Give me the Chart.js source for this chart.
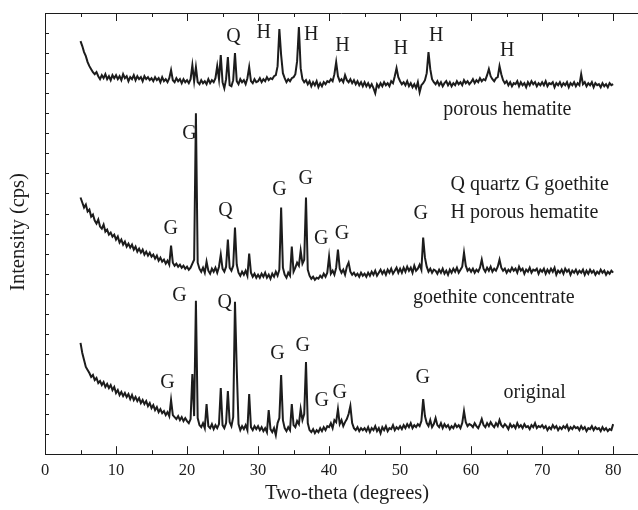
<!DOCTYPE html>
<html>
<head>
<meta charset="utf-8">
<script src="https://cdn.jsdelivr.net/npm/chart.js@4.4.0/dist/chart.umd.min.js"></script>
<style>
  html, body { margin: 0; padding: 0; background: #fff; }
  #wrap { width: 638px; height: 510px; }
</style>
</head>
<body>
<div id="wrap"><canvas id="xrd" width="638" height="510"></canvas></div>
<script>
// scan grid: 5..80 deg two-theta, 0.25 deg step (301 points per pattern)
const THETA_START = 5;
const THETA_STEP = 0.25;
const xTickValues = [0, 10, 20, 30, 40, 50, 60, 70, 80];

// intensities in stacked-plot units (traces are offset vertically)
const porousHematite = [
  20.60, 20.35, 20.05, 19.85, 19.55, 19.35, 19.20, 19.05, 18.95, 19.05, 18.85, 18.70, 18.90, 18.75, 18.95, 18.70, 18.85, 18.65, 18.90, 18.75, // 5
  18.90, 18.70, 18.85, 18.65, 18.95, 18.75, 18.85, 18.60, 18.80, 18.70, 18.90, 18.65, 18.85, 18.70, 18.80, 18.60, 18.85, 18.70, 18.80, 18.65, // 10
  18.75, 18.60, 18.80, 18.65, 18.75, 18.55, 18.80, 18.60, 18.70, 18.55, 18.75, 19.15, 18.65, 18.55, 18.75, 18.60, 18.70, 18.50, 18.70, 18.55, // 15
  18.65, 18.50, 18.70, 19.40, 18.60, 19.30, 18.55, 18.45, 18.65, 18.50, 18.60, 18.45, 18.70, 18.50, 18.65, 18.55, 18.75, 19.35, 18.70, 19.90, // 20
  18.55, 18.25, 18.70, 19.80, 18.40, 18.35, 18.65, 20.00, 18.60, 18.45, 18.70, 18.55, 18.65, 18.45, 18.75, 19.30, 18.60, 18.50, 18.70, 18.55, // 25
  18.60, 18.75, 18.55, 18.70, 18.60, 18.80, 18.65, 18.75, 18.70, 18.85, 18.90, 19.35, 21.20, 19.90, 19.00, 18.75, 18.55, 18.70, 18.60, 18.75, // 30
  18.80, 18.95, 19.60, 21.30, 19.25, 18.70, 18.55, 18.65, 18.45, 18.60, 18.35, 18.55, 18.40, 18.60, 18.30, 18.50, 18.35, 18.55, 18.45, 18.60, // 35
  18.55, 18.70, 18.60, 18.95, 19.55, 18.85, 18.60, 18.70, 18.55, 18.90, 18.65, 18.55, 18.70, 18.50, 18.65, 18.45, 18.60, 18.40, 18.55, 18.35, // 40
  18.55, 18.35, 18.50, 18.30, 18.45, 18.25, 18.00, 18.45, 18.30, 18.50, 18.35, 18.55, 18.40, 18.50, 18.35, 18.60, 18.50, 18.85, 19.25, 18.80, // 45
  18.60, 18.45, 18.55, 18.40, 18.60, 18.35, 18.50, 18.30, 18.45, 18.25, 18.55, 18.05, 18.40, 18.50, 18.65, 19.00, 20.05, 19.20, 18.70, 18.55, // 50
  18.45, 18.60, 18.40, 18.55, 18.35, 18.50, 18.60, 18.40, 18.55, 18.35, 18.50, 18.40, 18.60, 18.45, 18.55, 18.40, 18.65, 18.50, 18.60, 18.45, // 55
  18.55, 18.70, 18.50, 18.65, 18.55, 18.75, 18.60, 18.70, 18.65, 18.90, 19.20, 18.85, 18.70, 18.60, 18.75, 18.80, 19.35, 18.95, 18.65, 18.50, // 60
  18.60, 18.40, 18.55, 18.35, 18.50, 18.45, 18.60, 18.35, 18.55, 18.40, 18.50, 18.30, 18.55, 18.40, 18.60, 18.45, 18.55, 18.35, 18.50, 18.40, // 65
  18.55, 18.40, 18.60, 18.35, 18.50, 18.45, 18.55, 18.30, 18.50, 18.40, 18.55, 18.35, 18.50, 18.40, 18.55, 18.30, 18.50, 18.40, 18.55, 18.35, // 70
  18.50, 18.40, 18.95, 18.45, 18.55, 18.35, 18.50, 18.40, 18.55, 18.30, 18.50, 18.40, 18.45, 18.30, 18.50, 18.35, 18.45, 18.30, 18.50, 18.40, // 75
  18.45,
];

const goethiteConcentrate = [
  12.80, 12.55, 12.30, 12.45, 12.10, 12.20, 11.85, 11.95, 11.65, 11.50, 11.70, 11.35, 11.25, 11.45, 11.10, 11.20, 10.95, 11.05, 10.85, 10.95, // 5
  10.70, 10.85, 10.55, 10.70, 10.45, 10.60, 10.35, 10.50, 10.30, 10.45, 10.20, 10.35, 10.10, 10.25, 10.05, 10.20, 9.95, 10.10, 9.90, 10.05, // 10
  9.85, 9.95, 9.75, 9.90, 9.65, 9.80, 9.60, 9.70, 9.50, 9.65, 9.45, 10.40, 9.55, 9.40, 9.50, 9.35, 9.45, 9.30, 9.40, 9.25, // 15
  9.35, 9.20, 9.30, 9.50, 9.70, 17.00, 9.55, 9.25, 9.10, 9.30, 9.05, 9.60, 9.15, 9.00, 9.25, 9.10, 9.30, 9.05, 9.35, 9.95, // 20
  9.25, 9.10, 9.35, 10.70, 9.30, 9.15, 9.40, 11.30, 9.45, 9.05, 8.90, 9.10, 8.95, 9.15, 8.90, 10.00, 9.05, 8.85, 9.00, 8.80, // 25
  8.95, 8.80, 9.00, 8.85, 9.05, 8.80, 8.95, 8.75, 9.00, 8.85, 9.10, 8.90, 9.20, 12.30, 9.30, 8.95, 8.80, 9.05, 8.90, 10.35, // 30
  9.10, 9.30, 9.55, 9.40, 10.15, 9.50, 9.70, 12.80, 9.20, 8.90, 8.75, 8.85, 8.70, 8.80, 8.75, 8.90, 8.80, 9.00, 8.85, 9.05, // 35
  9.85, 9.00, 9.15, 8.95, 9.30, 10.20, 9.25, 9.05, 9.20, 8.95, 9.35, 9.55, 9.10, 8.95, 9.05, 8.90, 9.00, 8.85, 9.05, 8.90, // 40
  9.00, 8.85, 9.05, 8.90, 9.10, 8.95, 9.15, 8.90, 9.05, 9.20, 9.00, 9.15, 8.95, 9.20, 9.05, 9.25, 9.00, 9.15, 9.30, 9.05, // 45
  9.25, 9.05, 9.30, 9.10, 9.35, 9.15, 9.30, 9.05, 9.40, 9.15, 9.25, 9.45, 9.20, 10.80, 9.80, 9.35, 9.10, 9.25, 9.05, 9.20, // 50
  9.15, 9.00, 9.20, 9.05, 9.25, 9.00, 9.15, 8.95, 9.20, 9.05, 9.25, 9.10, 9.30, 9.05, 9.20, 9.35, 10.05, 9.40, 9.15, 9.25, // 55
  9.10, 9.25, 9.05, 9.20, 9.10, 9.30, 9.70, 9.25, 9.10, 9.30, 9.15, 9.35, 9.10, 9.25, 9.15, 9.35, 9.70, 9.30, 9.15, 9.25, // 60
  9.05, 9.20, 9.10, 9.30, 9.15, 9.25, 9.05, 9.35, 9.15, 9.25, 9.00, 9.20, 9.10, 9.30, 9.05, 9.20, 9.15, 9.25, 9.00, 9.20, // 65
  9.10, 9.25, 9.00, 9.20, 9.05, 9.25, 9.10, 9.30, 8.95, 9.15, 9.05, 9.20, 9.00, 9.25, 9.10, 9.20, 8.95, 9.15, 9.05, 9.20, // 70
  9.00, 9.15, 9.05, 9.20, 8.95, 9.15, 9.00, 9.20, 9.05, 9.15, 8.95, 9.10, 9.00, 9.20, 9.05, 9.15, 8.95, 9.10, 9.00, 9.15, // 75
  9.05,
];

const original = [
  5.55, 5.05, 4.70, 4.35, 4.20, 4.05, 3.85, 3.95, 3.70, 3.80, 3.55, 3.65, 3.45, 3.60, 3.35, 3.50, 3.30, 3.45, 3.20, 3.35, // 5
  3.05, 3.20, 2.95, 3.10, 2.90, 3.05, 2.85, 3.00, 2.75, 2.95, 2.70, 2.85, 2.65, 2.80, 2.55, 2.70, 2.50, 2.65, 2.40, 2.55, // 10
  2.30, 2.45, 2.20, 2.35, 2.10, 2.25, 2.05, 2.15, 1.95, 2.10, 1.90, 2.70, 1.95, 1.85, 1.75, 1.90, 1.70, 1.85, 1.65, 1.80, // 15
  1.65, 1.55, 1.75, 4.00, 1.90, 7.65, 1.80, 1.45, 1.35, 1.55, 1.30, 2.50, 1.40, 1.30, 1.50, 1.25, 1.45, 1.30, 1.50, 3.30, // 20
  1.45, 1.30, 1.55, 3.15, 1.60, 1.40, 1.85, 7.60, 4.25, 1.50, 1.20, 1.40, 1.25, 1.45, 1.20, 3.00, 1.35, 1.20, 1.40, 1.25, // 25
  1.40, 1.20, 1.35, 1.15, 1.30, 1.10, 2.20, 1.25, 1.10, 1.30, 0.95, 1.55, 1.80, 3.95, 1.70, 1.30, 1.15, 1.35, 1.20, 2.50, // 30
  1.45, 1.35, 1.65, 1.50, 2.25, 1.70, 2.00, 4.60, 1.55, 1.20, 1.10, 1.25, 1.05, 1.20, 1.10, 1.30, 1.15, 1.35, 1.20, 1.40, // 35
  1.35, 1.55, 1.30, 1.70, 1.60, 2.25, 1.50, 1.70, 1.40, 1.60, 1.75, 2.00, 2.40, 1.55, 1.30, 1.20, 1.35, 1.15, 1.30, 1.20, // 40
  1.30, 1.15, 1.35, 1.10, 1.30, 1.20, 1.40, 1.15, 1.30, 1.05, 1.35, 1.20, 1.40, 1.15, 1.30, 1.25, 1.45, 1.20, 1.35, 1.25, // 45
  1.40, 1.25, 1.45, 1.30, 1.50, 1.35, 1.55, 1.30, 1.45, 1.35, 1.50, 1.40, 1.65, 2.75, 1.90, 1.55, 1.40, 1.70, 1.35, 1.50, // 50
  1.80, 1.45, 1.35, 1.55, 1.30, 1.50, 1.35, 1.45, 1.25, 1.40, 1.30, 1.50, 1.35, 1.45, 1.30, 1.55, 2.15, 1.60, 1.40, 1.50, // 55
  1.45, 1.35, 1.55, 1.40, 1.30, 1.50, 1.75, 1.45, 1.35, 1.55, 1.40, 1.60, 1.45, 1.35, 1.55, 1.40, 1.70, 1.45, 1.35, 1.50, // 60
  1.40, 1.25, 1.50, 1.35, 1.45, 1.30, 1.55, 1.35, 1.45, 1.30, 1.50, 1.35, 1.40, 1.25, 1.45, 1.35, 1.55, 1.30, 1.40, 1.35, // 65
  1.45, 1.30, 1.40, 1.20, 1.35, 1.25, 1.45, 1.30, 1.40, 1.20, 1.35, 1.25, 1.40, 1.30, 1.45, 1.20, 1.35, 1.25, 1.40, 1.30, // 70
  1.35, 1.20, 1.40, 1.25, 1.35, 1.15, 1.30, 1.25, 1.40, 1.20, 1.35, 1.25, 1.30, 1.15, 1.35, 1.20, 1.30, 1.15, 1.25, 1.20, // 75
  1.50,
];

// phase markers over the peaks (two-theta, stacked intensity)
const peakLabels = [
  { text: 'Q', x: 26.55, y: 20.8 }, { text: 'H', x: 30.8, y: 21.0 }, { text: 'H', x: 37.5, y: 20.9 },
  { text: 'H', x: 41.9, y: 20.35 }, { text: 'H', x: 50.1, y: 20.2 }, { text: 'H', x: 55.1, y: 20.85 },
  { text: 'H', x: 65.1, y: 20.1 },
  { text: 'G', x: 20.35, y: 16.0 }, { text: 'G', x: 17.7, y: 11.25 }, { text: 'Q', x: 25.4, y: 12.15 },
  { text: 'G', x: 33.0, y: 13.2 }, { text: 'G', x: 36.7, y: 13.75 }, { text: 'G', x: 38.9, y: 10.75 },
  { text: 'G', x: 41.8, y: 11.0 }, { text: 'G', x: 52.9, y: 12.0 },
  { text: 'G', x: 18.95, y: 7.9 }, { text: 'Q', x: 25.3, y: 7.55 }, { text: 'G', x: 17.25, y: 3.55 },
  { text: 'G', x: 32.75, y: 5.0 }, { text: 'G', x: 36.3, y: 5.4 }, { text: 'G', x: 38.95, y: 2.65 },
  { text: 'G', x: 41.5, y: 3.05 }, { text: 'G', x: 53.2, y: 3.8 },
];
const traceNames = [
  { text: 'porous hematite', x: 65.1, y: 17.2 },
  { text: 'goethite concentrate', x: 63.2, y: 7.8 },
  { text: 'original', x: 68.95, y: 3.05 },
];
const keyLines = ['Q quartz G goethite', 'H porous hematite'];

const INK = '#1c1c1c';
const SERIF = '"Liberation Serif", "Times New Roman", serif';

function toPoints(values) {
  return values.map((y, i) => ({ x: THETA_START + i * THETA_STEP, y }));
}

function traceDataset(values) {
  return {
    data: toPoints(values),
    borderColor: INK,
    borderWidth: 2,
    pointRadius: 0,
    tension: 0,
    fill: false,
  };
}

// frame, inward ticks and all the text that sits on the plot
const decorations = {
  id: 'decorations',
  afterDraw(chart) {
    const { ctx, chartArea: area, scales: { x, y } } = chart;
    ctx.save();
    ctx.strokeStyle = INK;
    ctx.lineWidth = 1;

    ctx.beginPath();
    ctx.moveTo(area.left, area.top + 0.5);
    ctx.lineTo(area.right, area.top + 0.5);
    ctx.moveTo(area.left + 0.5, area.top);
    ctx.lineTo(area.left + 0.5, area.bottom);
    for (let v = 0; v <= 80; v += 5) {
      const px = Math.round(x.getPixelForValue(v)) + 0.5;
      const len = v % 10 === 0 ? 8 : 4;
      ctx.moveTo(px, area.bottom);
      ctx.lineTo(px, area.bottom - len);
      ctx.moveTo(px, area.top);
      ctx.lineTo(px, area.top + len);
    }
    for (let v = 1; v < 22; v++) {
      const py = Math.round(y.getPixelForValue(v)) + 0.5;
      ctx.moveTo(area.left, py);
      ctx.lineTo(area.left + 4, py);
    }
    ctx.stroke();

    ctx.fillStyle = INK;
    ctx.textAlign = 'center';
    ctx.textBaseline = 'middle';
    ctx.font = `20px ${SERIF}`;
    peakLabels.forEach((l) => ctx.fillText(l.text, x.getPixelForValue(l.x), y.getPixelForValue(l.y)));
    traceNames.forEach((l) => ctx.fillText(l.text, x.getPixelForValue(l.x), y.getPixelForValue(l.y)));

    ctx.textAlign = 'left';
    ctx.fillText(keyLines[0], x.getPixelForValue(57.1), y.getPixelForValue(13.45));
    ctx.fillText(keyLines[1], x.getPixelForValue(57.1), y.getPixelForValue(12.05));

    ctx.textAlign = 'center';
    ctx.font = `20.5px ${SERIF}`;
    ctx.fillText('Two-theta (degrees)', 347, 494);
    ctx.translate(19, 232);
    ctx.rotate(-Math.PI / 2);
    ctx.fillText('Intensity (cps)', 0, 0);
    ctx.restore();
  },
};

new Chart(document.getElementById('xrd'), {
  type: 'line',
  data: {
    datasets: [
      traceDataset(porousHematite),
      traceDataset(goethiteConcentrate),
      traceDataset(original),
    ],
  },
  options: {
    responsive: false,
    animation: false,
    layout: { padding: { left: 45, top: 13, right: 0, bottom: 22 } },
    plugins: { legend: { display: false }, tooltip: { enabled: false } },
    scales: {
      x: {
        type: 'linear',
        min: 0,
        max: 83.5,
        grid: { display: false, drawTicks: false },
        border: { display: true, color: INK, width: 1 },
        afterBuildTicks: (axis) => { axis.ticks = xTickValues.map((value) => ({ value })); },
        ticks: { padding: 7, color: INK, font: { family: SERIF, size: 16.5 } },
      },
      y: { display: false, min: 0, max: 22 },
    },
  },
  plugins: [decorations],
});
</script>
</body>
</html>
